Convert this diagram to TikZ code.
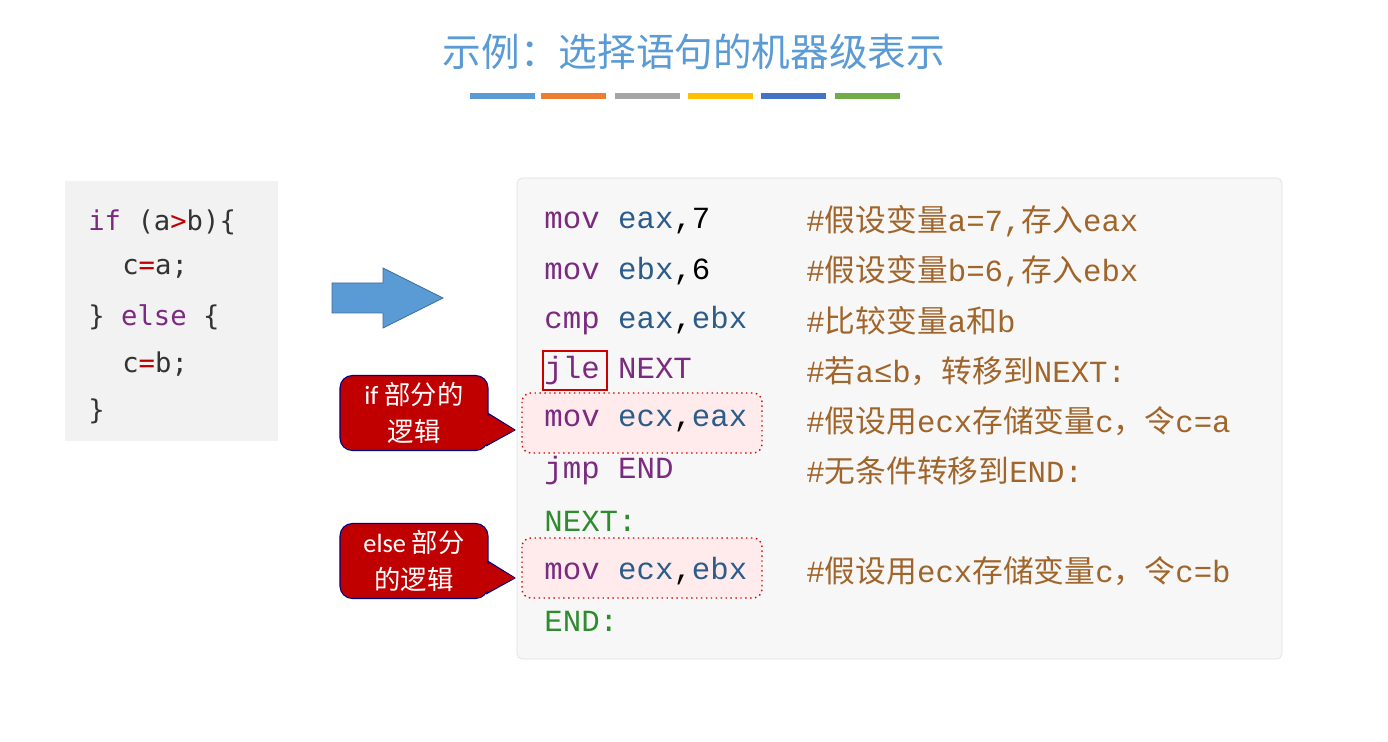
\documentclass[tikz,border=0pt]{standalone}
\usepackage{fontspec}
\setmainfont{Carlito}
\setmonofont{Liberation Mono}
\newfontfamily\cjk{Noto Sans CJK SC}
\newfontfamily\lmono{DejaVu Sans Mono}

\definecolor{kwc}{HTML}{7B2A7F}
\definecolor{regc}{HTML}{2B5C8A}
\definecolor{cmc}{HTML}{A0652B}
\definecolor{lblc}{HTML}{2E8B2E}
\definecolor{titlec}{HTML}{5B9BD5}
\definecolor{calc}{HTML}{C00000}
\definecolor{barA}{HTML}{5B9BD5}
\definecolor{barB}{HTML}{ED7D31}
\definecolor{barC}{HTML}{A5A5A5}
\definecolor{barD}{HTML}{FFC000}
\definecolor{barE}{HTML}{4472C4}
\definecolor{barF}{HTML}{70AD47}

\tikzset{
  codeline/.style={anchor=west, inner sep=0pt, font=\ttfamily\fontsize{17.5}{20}\selectfont},
  srcline/.style={anchor=west, inner sep=0pt, font=\lmono\fontsize{15.5}{18}\selectfont, text=black!80},
  note/.style={fill=calc, draw=blue!50!black, line width=0.6pt,
    rounded corners=7pt, text=white, align=center, minimum width=2.96cm,
    minimum height=1.5cm, font=\fontsize{15}{21}\selectfont},
  pointer/.style={fill=calc, draw=blue!50!black, line width=0.6pt, line join=round},
  hilite/.style={draw=red!80!black, dotted, thick, fill=red!8, rounded corners=5pt}
}

\begin{document}
\begin{tikzpicture}[x=0.02cm,y=-0.02cm]
	\useasboundingbox (0,0) rectangle (1388,742);

	% title and colour bars
	\node (title) at (694,52) {\cjk\fontsize{22}{24}\selectfont\color{titlec}示例：选择语句的机器级表示};
	\foreach \x/\c in {470/barA, 541/barB, 615/barC, 688/barD, 761/barE, 835/barF}
		\fill[\c] (\x,93) rectangle ++(65,6);

	% source code
	\fill[black!5] (65,181) rectangle (278,441);
	\node[srcline] (s1) at (88,222) {\textcolor{kwc}{if}\ (a\textcolor{calc}{>}b)\{};
	\node[srcline] (s2) at (122,269) {c\textcolor{calc}{=}a;};
	\node[srcline] (s3) at (88,317) {\}\ \textcolor{kwc}{else}\ \{};
	\node[srcline] (s4) at (122,364) {c\textcolor{calc}{=}b;};
	\node[srcline] (s5) at (88,411) {\}};

	% arrow
	\draw[fill=titlec, draw=titlec!70!black] (332,283) -- (383,283) -- (383,268) -- (443,298)
		-- (383,328) -- (383,313) -- (332,313) -- cycle;

	% assembly box
	\draw[fill=black!3, draw=black!12, rounded corners=3pt] (517,178) rectangle (1282,659);
	\draw[hilite] (522,393) rectangle (762,453);
	\draw[hilite] (522,538) rectangle (762,598);
	\draw[red!80!black, thick] (543,351) rectangle (607,390);

	\node[codeline] (c1) at (544,221) {\textcolor{kwc}{mov} \textcolor{regc}{eax},7};
	\node[codeline] (c2) at (544,271) {\textcolor{kwc}{mov} \textcolor{regc}{ebx},6};
	\node[codeline] (c3) at (544,321) {\textcolor{kwc}{cmp} \textcolor{regc}{eax},\textcolor{regc}{ebx}};
	\node[codeline] (c4) at (544,371) {\textcolor{kwc}{jle NEXT}};
	\node[codeline] (c5) at (544,421) {\textcolor{kwc}{mov} \textcolor{regc}{ecx},\textcolor{regc}{eax}};
	\node[codeline] (c6) at (544,471) {\textcolor{kwc}{jmp END}};
	\node[codeline] (c7) at (544,521) {\textcolor{lblc}{NEXT:}};
	\node[codeline] (c8) at (544,571) {\textcolor{kwc}{mov} \textcolor{regc}{ecx},\textcolor{regc}{ebx}};
	\node[codeline] (c9) at (544,621) {\textcolor{lblc}{END:}};

	% comments
	\begin{scope}[every node/.append style={codeline, text=cmc}]
		\node (m1) at (806,221) {\#{\cjk 假设变量}a=7,{\cjk 存入}eax};
		\node (m2) at (806,271) {\#{\cjk 假设变量}b=6,{\cjk 存入}ebx};
		\node (m3) at (806,321) {\#{\cjk 比较变量}a{\cjk 和}b};
		\node (m4) at (806,371) {\#{\cjk 若}a≤b{\cjk ，转移到}NEXT:};
		\node (m5) at (806,421) {\#{\cjk 假设用}ecx{\cjk 存储变量}c{\cjk ，令}c=a};
		\node (m6) at (806,471) {\#{\cjk 无条件转移到}END:};
		\node (m8) at (806,571) {\#{\cjk 假设用}ecx{\cjk 存储变量}c{\cjk ，令}c=b};
	\end{scope}

	% callouts
	\coordinate (tipif) at (515,430);
	\coordinate (tipelse) at (515,578);
	\draw[pointer] (486,412) -- (tipif) -- (486,446);
	\draw[pointer] (486,560) -- (tipelse) -- (486,594);
	\node[note] (noteif) at (414,413) {if {\cjk 部分的}\\{\cjk 逻辑}};
	\node[note] (noteelse) at (414,561) {else {\cjk 部分}\\{\cjk 的逻辑}};
	\fill[calc] (482,413) -- (tipif) -- (482,445) -- cycle;
	\fill[calc] (482,561) -- (tipelse) -- (482,593) -- cycle;
\end{tikzpicture}
\end{document}
